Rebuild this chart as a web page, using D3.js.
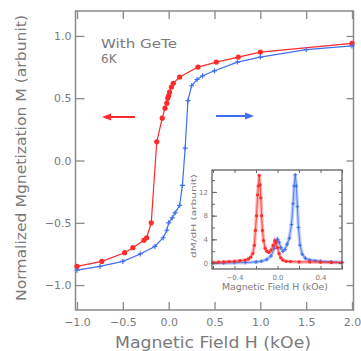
<!DOCTYPE html>
<html>
<head>
<meta charset="utf-8">
<script src="https://cdn.jsdelivr.net/npm/d3@7"></script>
<style>
  body { margin: 0; background: #fff; }
  text { font-family: "DejaVu Sans", sans-serif; fill: #7a7a7a; }
</style>
</head>
<body>
<div id="chart"></div>
<script>
// main loop: descending branch (red) and ascending branch (blue), H in kOe, M normalized
const redH = [2.0, 1.0, 0.76, 0.52, 0.32, 0.12, 0.05, 0.03, 0.01, 0.0, -0.01, -0.02, -0.04, -0.07, -0.13, -0.19, -0.24, -0.27, -0.39, -0.48, -0.73, -1.0]
const redM = [0.94, 0.87, 0.83, 0.79, 0.75, 0.67, 0.62, 0.59, 0.55, 0.52, 0.50, 0.46, 0.42, 0.34, 0.15, -0.50, -0.62, -0.64, -0.70, -0.74, -0.81, -0.85]
const blueH = [-1.0, -0.75, -0.5, -0.31, -0.15, -0.06, -0.02, 0.0, 0.04, 0.07, 0.12, 0.15, 0.18, 0.21, 0.25, 0.31, 0.37, 0.5, 0.75, 1.0, 1.5, 2.0]
const blueM = [-0.88, -0.85, -0.81, -0.75, -0.69, -0.62, -0.56, -0.50, -0.46, -0.42, -0.36, -0.20, 0.10, 0.48, 0.60, 0.65, 0.68, 0.72, 0.79, 0.83, 0.89, 0.92]

// inset: dM/dH
const dRedH = [-0.6, -0.55, -0.5, -0.45, -0.4, -0.35, -0.3, -0.27, -0.25, -0.23, -0.215, -0.205, -0.195, -0.185, -0.178, -0.17, -0.162, -0.155, -0.148, -0.14, -0.13, -0.115, -0.1, -0.08, -0.06, -0.04, -0.025, -0.015, 0.0, 0.015, 0.03, 0.05, 0.08, 0.12, 0.2, 0.3, 0.4, 0.5, 0.6]
const dRedV = [0.1, 0.15, 0.2, 0.25, 0.3, 0.4, 0.5, 0.7, 1.0, 1.6, 3.0, 5.5, 8.0, 11.5, 13.0, 14.8, 13.2, 11.0, 8.0, 5.5, 3.8, 2.5, 2.0, 1.8, 2.2, 3.0, 3.8, 3.5, 2.6, 1.6, 0.9, 0.5, 0.3, 0.25, 0.2, 0.2, 0.15, 0.1, 0.1]
const dBlueH = [-0.6, -0.5, -0.4, -0.3, -0.2, -0.15, -0.1, -0.06, -0.03, -0.01, 0.0, 0.015, 0.03, 0.05, 0.07, 0.09, 0.11, 0.13, 0.145, 0.155, 0.165, 0.175, 0.185, 0.195, 0.21, 0.23, 0.26, 0.3, 0.35, 0.4, 0.5, 0.6]
const dBlueV = [0.0, 0.0, 0.05, 0.1, 0.2, 0.3, 0.6, 1.2, 2.5, 3.6, 4.0, 3.5, 2.6, 2.0, 2.3, 3.2, 4.2, 6.5, 10.0, 13.0, 14.9, 13.0, 9.5, 6.0, 3.0, 1.5, 0.8, 0.5, 0.4, 0.3, 0.2, 0.1]

const xTicks = [-1.0, -0.5, 0.0, 0.5, 1.0, 1.5, 2.0]
const yTicks = [-1.0, -0.5, 0.0, 0.5, 1.0]
const insetXTicks = [-0.4, 0.0, 0.4]
const insetYTicks = [0, 4, 8, 12]

const width = 361
const height = 351
const red = "#ff2a2a"
const blue = "#3f6ff0"
const gray = "#8a8a8a"

const svg = d3.select("#chart").append("svg")
  .attr("width", width)
  .attr("height", height)

const frame = {left: 75.5, right: 353.5, top: 11, bottom: 310}
const xScale = d3.scaleLinear().domain([-1, 2]).range([77, 352])
const yScale = d3.scaleLinear().domain([-1.2, 1.2]).range([frame.bottom, frame.top])

function styleAxis(g){
  g.select(".domain").remove()
  g.selectAll(".tick line").attr("stroke", gray).attr("stroke-width", 1.3)
  g.selectAll(".tick text").attr("fill", "#7a7a7a")
}

// axes (ticks point inward)
svg.append("g")
  .attr("transform", `translate(0,${frame.bottom})`)
  .call(d3.axisBottom(xScale).tickValues(xTicks).tickSize(-8).tickPadding(6).tickFormat(d3.format(".1f")))
  .call(styleAxis)
  .call(g => g.selectAll(".tick text").attr("font-size", 11).attr("font-family", "DejaVu Sans").attr("dy", "0.9em"))
svg.append("g")
  .attr("transform", `translate(0,${frame.top})`)
  .call(d3.axisTop(xScale).tickValues(xTicks).tickSize(-8).tickFormat(""))
  .call(styleAxis)
svg.append("g")
  .attr("transform", `translate(${frame.left},0)`)
  .call(d3.axisLeft(yScale).tickValues(yTicks).tickSize(-9).tickPadding(4).tickFormat(d3.format(".1f")))
  .call(styleAxis)
  .call(g => g.selectAll(".tick text").attr("font-size", 11).attr("font-family", "DejaVu Sans"))
svg.append("g")
  .attr("transform", `translate(${frame.right},0)`)
  .call(d3.axisRight(yScale).tickValues(yTicks).tickSize(-7).tickFormat(""))
  .call(styleAxis)

svg.append("rect")
  .attr("x", frame.left).attr("y", frame.top)
  .attr("width", frame.right - frame.left).attr("height", frame.bottom - frame.top)
  .attr("fill", "none").attr("stroke", gray).attr("stroke-width", 1.5)

// axis titles
svg.append("text")
  .attr("x", 213).attr("y", 348)
  .attr("text-anchor", "middle")
  .attr("font-size", 15)
  .attr("textLength", 196).attr("lengthAdjust", "spacingAndGlyphs")
  .text("Magnetic Field H (kOe)")
svg.append("text")
  .attr("transform", "translate(26,158) rotate(-90)")
  .attr("text-anchor", "middle")
  .attr("font-size", 14)
  .attr("textLength", 286).attr("lengthAdjust", "spacingAndGlyphs")
  .text("Normalized Mgnetization M (arbunit)")

// curves
const line = d3.line().x(d => xScale(d[0])).y(d => yScale(d[1]))
const redData = d3.zip(redH, redM)
const blueData = d3.zip(blueH, blueM)

svg.append("path").datum(redData)
  .attr("d", line).attr("fill", "none").attr("stroke", red).attr("stroke-width", 1.2)
svg.append("path").datum(blueData)
  .attr("d", line).attr("fill", "none").attr("stroke", blue).attr("stroke-width", 1.2)

svg.selectAll(".redDot").data(redData).enter().append("circle")
  .attr("class", "redDot")
  .attr("cx", d => xScale(d[0])).attr("cy", d => yScale(d[1]))
  .attr("r", 2.6).attr("fill", red)
svg.selectAll(".blueDot").data(blueData).enter().append("path")
  .attr("class", "blueDot")
  .attr("transform", d => `translate(${xScale(d[0])},${yScale(d[1])})`)
  .attr("d", "M-2.5,0H2.5M0,-2.5V2.5")
  .attr("stroke", blue).attr("stroke-width", 1.2)

// label
svg.append("text").attr("x", 101).attr("y", 48).attr("font-size", 12)
  .attr("textLength", 76).attr("lengthAdjust", "spacingAndGlyphs").text("With GeTe")
svg.append("text").attr("x", 101).attr("y", 63).attr("font-size", 12).text("6K")

// arrows
function arrow(x1, x2, y, color){
  const dir = Math.sign(x2 - x1)
  svg.append("line").attr("x1", x1).attr("x2", x2 - dir * 6).attr("y1", y).attr("y2", y)
    .attr("stroke", color).attr("stroke-width", 2)
  svg.append("path")
    .attr("d", `M${x2},${y}L${x2 - dir * 9},${y - 3.5}L${x2 - dir * 9},${y + 3.5}Z`)
    .attr("fill", color)
}
arrow(135, 102, 117, red)
arrow(216, 254, 116, blue)

// inset
const inset = {left: 212, right: 342, top: 170, bottom: 269}
const ix = d3.scaleLinear().domain([-0.6, 0.6]).range([213, 342])
const iy = d3.scaleLinear().domain([-1, 15.7]).range([inset.bottom, inset.top])

svg.append("rect")
  .attr("x", inset.left).attr("y", inset.top)
  .attr("width", inset.right - inset.left).attr("height", inset.bottom - inset.top)
  .attr("fill", "#fff")

const insetLine = d3.line().x(d => ix(d[0])).y(d => iy(d[1]))
const dRed = d3.zip(dRedH, dRedV)
const dBlue = d3.zip(dBlueH, dBlueV)

const ig = svg.append("g")
ig.append("path").datum(dBlue).attr("d", insetLine).attr("fill", "none")
  .attr("stroke", blue).attr("stroke-opacity", 0.35).attr("stroke-width", 3.5)
ig.append("path").datum(dBlue).attr("d", insetLine).attr("fill", "none")
  .attr("stroke", blue).attr("stroke-width", 0.8)
ig.selectAll(".dBlueDot").data(dBlue).enter().append("path")
  .attr("class", "dBlueDot")
  .attr("transform", d => `translate(${ix(d[0])},${iy(d[1])})`)
  .attr("d", "M-1.8,0H1.8M0,-1.8V1.8")
  .attr("stroke", blue).attr("stroke-width", 1.1)
ig.append("path").datum(dRed).attr("d", insetLine).attr("fill", "none")
  .attr("stroke", red).attr("stroke-opacity", 0.35).attr("stroke-width", 3.5)
ig.append("path").datum(dRed).attr("d", insetLine).attr("fill", "none")
  .attr("stroke", red).attr("stroke-width", 0.8)
ig.selectAll(".dRedDot").data(dRed).enter().append("circle")
  .attr("class", "dRedDot")
  .attr("cx", d => ix(d[0])).attr("cy", d => iy(d[1]))
  .attr("r", 1.6).attr("fill", red)

function styleInset(g){
  g.select(".domain").remove()
  g.selectAll(".tick line").attr("stroke", "#666").attr("stroke-width", 1)
  g.selectAll(".tick text").attr("fill", "#666").attr("font-size", 7).attr("font-family", "DejaVu Sans")
}
const ixMinor = d3.range(-0.6, 0.61, 0.2)
const iyMinor = d3.range(0, 15.1, 2)
svg.append("g").attr("transform", `translate(0,${inset.bottom})`)
  .call(d3.axisBottom(ix).tickValues(ixMinor).tickSize(-3).tickFormat(""))
  .call(styleInset)
svg.append("g").attr("transform", `translate(0,${inset.bottom})`)
  .call(d3.axisBottom(ix).tickValues(insetXTicks).tickSize(0).tickPadding(6).tickFormat(d3.format(".1f")))
  .call(styleInset)
svg.append("g").attr("transform", `translate(0,${inset.top})`)
  .call(d3.axisTop(ix).tickValues(ixMinor).tickSize(-3).tickFormat(""))
  .call(styleInset)
svg.append("g").attr("transform", `translate(${inset.left},0)`)
  .call(d3.axisLeft(iy).tickValues(iyMinor).tickSize(-3).tickFormat(""))
  .call(styleInset)
svg.append("g").attr("transform", `translate(${inset.left},0)`)
  .call(d3.axisLeft(iy).tickValues(insetYTicks).tickSize(-5).tickPadding(4).tickFormat(d3.format("d")))
  .call(styleInset)
svg.append("g").attr("transform", `translate(${inset.right},0)`)
  .call(d3.axisRight(iy).tickValues(iyMinor).tickSize(-3).tickFormat(""))
  .call(styleInset)

svg.append("rect")
  .attr("x", inset.left).attr("y", inset.top)
  .attr("width", inset.right - inset.left).attr("height", inset.bottom - inset.top)
  .attr("fill", "none").attr("stroke", "#555").attr("stroke-width", 1.2)

svg.append("text")
  .attr("x", 275).attr("y", 290)
  .attr("text-anchor", "middle").attr("font-size", 8).attr("fill", "#666")
  .attr("textLength", 106).attr("lengthAdjust", "spacingAndGlyphs")
  .text("Magnetic Field H (kOe)")
svg.append("text")
  .attr("transform", "translate(196,216) rotate(-90)")
  .attr("text-anchor", "middle").attr("font-size", 7).attr("fill", "#666")
  .attr("textLength", 84).attr("lengthAdjust", "spacingAndGlyphs")
  .text("dM/dH (arbunit)")
</script>
</body>
</html>
